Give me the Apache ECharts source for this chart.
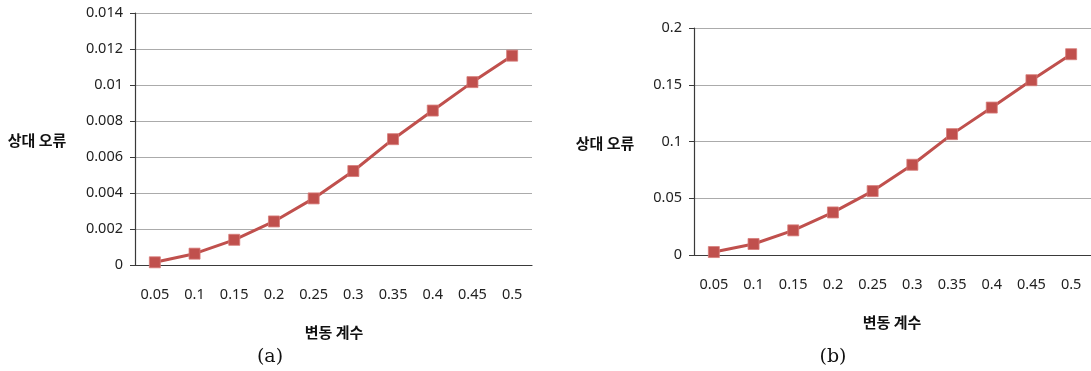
<!DOCTYPE html>
<html>
<head>
<meta charset="utf-8">
<script src="https://cdn.jsdelivr.net/npm/echarts@6/dist/echarts.min.js"></script>
<style>
  html, body { margin: 0; padding: 0; background: #ffffff; }
  #chart { width: 1091px; height: 371px; }
</style>
</head>
<body>
<div id="chart"></div>
<script>
// Coefficient of variation (x) shared by both panels
const categories = ['0.05', '0.1', '0.15', '0.2', '0.25', '0.3', '0.35', '0.4', '0.45', '0.5'];

// Panel (a): relative error
const errorA = [0.00015, 0.00063, 0.0014, 0.00242, 0.0037, 0.00522, 0.00699, 0.00858, 0.01016, 0.01163];
// Panel (b): relative error
const errorB = [0.0026, 0.0097, 0.0217, 0.0375, 0.0563, 0.0795, 0.1065, 0.1299, 0.154, 0.1769];

const yTitle = '상대 오류';
const xTitle = '변동 계수';
const panelLabels = ['(a)', '(b)'];

const RED = '#c0504d';
const numFont = '"Noto Sans", "Noto Sans CJK KR", sans-serif';

function xAxisFor(gridIndex) {
  return {
    type: 'category',
    gridIndex: gridIndex,
    data: categories,
    boundaryGap: true,
    axisLine: { show: true, lineStyle: { color: '#3a3a3a', width: 1.2 } },
    axisTick: { show: false },
    axisLabel: { color: '#222', fontSize: 14.5, fontFamily: numFont, margin: 23 },
    splitLine: { show: false }
  };
}

function yAxisFor(gridIndex, max, interval) {
  return {
    type: 'value',
    gridIndex: gridIndex,
    min: 0,
    max: max,
    interval: interval,
    axisLine: { show: true, lineStyle: { color: '#3a3a3a', width: 1.2 } },
    axisTick: { show: true, length: 5, lineStyle: { color: '#3a3a3a' } },
    axisLabel: { color: '#222', fontSize: 14.5, fontFamily: numFont, margin: 12 },
    splitLine: { show: true, lineStyle: { color: '#ababab', width: 1.2 } }
  };
}

function seriesFor(index, data) {
  return {
    type: 'line',
    xAxisIndex: index,
    yAxisIndex: index,
    data: data,
    symbol: 'rect',
    symbolSize: 11,
    showAllSymbol: true,
    lineStyle: { color: RED, width: 3 },
    itemStyle: { color: RED, borderColor: '#d77b78', borderWidth: 0.8 },
    emphasis: { disabled: true },
    animation: false
  };
}

function boldText(x, y, text) {
  return {
    type: 'text', x: x, y: y,
    style: {
      text: text, fill: '#111',
      font: 'bold 15px "Noto Sans CJK KR", sans-serif',
      align: 'center', verticalAlign: 'middle'
    }
  };
}

function panelText(x, y, text) {
  return {
    type: 'text', x: x, y: y,
    style: {
      text: text, fill: '#111',
      font: '19px "DejaVu Serif", "Liberation Serif", serif',
      align: 'center', verticalAlign: 'middle'
    }
  };
}

const chart = echarts.init(document.getElementById('chart'), null, { renderer: 'canvas' });
chart.setOption({
  backgroundColor: '#ffffff',
  animation: false,
  grid: [
    { left: 135, top: 13, width: 397, height: 252 },
    { left: 694, top: 28, width: 397, height: 227 }
  ],
  xAxis: [xAxisFor(0), xAxisFor(1)],
  yAxis: [yAxisFor(0, 0.014, 0.002), yAxisFor(1, 0.2, 0.05)],
  series: [seriesFor(0, errorA), seriesFor(1, errorB)],
  graphic: [
    boldText(37, 140, yTitle),
    boldText(334, 332, xTitle),
    panelText(270, 357, panelLabels[0]),
    boldText(605, 143, yTitle),
    boldText(892, 322, xTitle),
    panelText(833, 357, panelLabels[1])
  ]
});
</script>
</body>
</html>
